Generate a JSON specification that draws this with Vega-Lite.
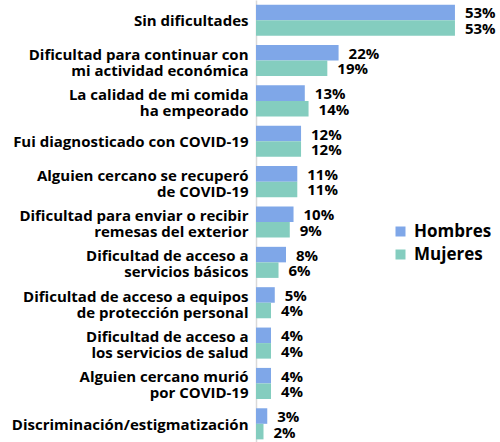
{
  "$schema": "https://vega.github.io/schema/vega-lite/v6.json",
  "autosize": "none",
  "width": 244,
  "height": 444,
  "padding": {"left": 256, "top": 0, "right": 0, "bottom": 0},
  "background": "white",
  "config": {"view": {"stroke": null}, "font": "Open Sans"},
  "data": {"values": [
    {"cat": "Sin dificultades", "sexo": "Hombres", "v": 0.53},
    {"cat": "Sin dificultades", "sexo": "Mujeres", "v": 0.53},
    {"cat": "Dificultad para continuar con|mi actividad económica", "sexo": "Hombres", "v": 0.22},
    {"cat": "Dificultad para continuar con|mi actividad económica", "sexo": "Mujeres", "v": 0.19},
    {"cat": "La calidad de mi comida|ha empeorado", "sexo": "Hombres", "v": 0.13},
    {"cat": "La calidad de mi comida|ha empeorado", "sexo": "Mujeres", "v": 0.14},
    {"cat": "Fui diagnosticado con COVID-19", "sexo": "Hombres", "v": 0.12},
    {"cat": "Fui diagnosticado con COVID-19", "sexo": "Mujeres", "v": 0.12},
    {"cat": "Alguien cercano se recuperó|de COVID-19", "sexo": "Hombres", "v": 0.11},
    {"cat": "Alguien cercano se recuperó|de COVID-19", "sexo": "Mujeres", "v": 0.11},
    {"cat": "Dificultad para enviar o recibir|remesas del exterior", "sexo": "Hombres", "v": 0.10},
    {"cat": "Dificultad para enviar o recibir|remesas del exterior", "sexo": "Mujeres", "v": 0.09},
    {"cat": "Dificultad de acceso a|servicios básicos", "sexo": "Hombres", "v": 0.08},
    {"cat": "Dificultad de acceso a|servicios básicos", "sexo": "Mujeres", "v": 0.06},
    {"cat": "Dificultad de acceso a equipos|de protección personal", "sexo": "Hombres", "v": 0.05},
    {"cat": "Dificultad de acceso a equipos|de protección personal", "sexo": "Mujeres", "v": 0.04},
    {"cat": "Dificultad de acceso a|los servicios de salud", "sexo": "Hombres", "v": 0.04},
    {"cat": "Dificultad de acceso a|los servicios de salud", "sexo": "Mujeres", "v": 0.04},
    {"cat": "Alguien cercano murió|por COVID-19", "sexo": "Hombres", "v": 0.04},
    {"cat": "Alguien cercano murió|por COVID-19", "sexo": "Mujeres", "v": 0.04},
    {"cat": "Discriminación/estigmatización", "sexo": "Hombres", "v": 0.03},
    {"cat": "Discriminación/estigmatización", "sexo": "Mujeres", "v": 0.02}
  ]},
  "encoding": {
    "y": {
      "field": "cat", "type": "nominal", "sort": null,
      "scale": {"paddingInner": 0.23, "paddingOuter": 0.115},
      "axis": {
        "title": null, "ticks": false, "domainColor": "#d9d9d9", "domainWidth": 1.5,
        "labelExpr": "split(datum.value, '|')",
        "labelFont": "Open Sans", "labelFontWeight": "bold", "labelFontSize": 15,
        "labelColor": "black", "labelPadding": 8, "labelLineHeight": 16, "labelLimit": 260,
        "labelOffset": {"condition": {"test": "indexof(datum.value, '|') >= 0", "value": -6}, "value": 1}
      }
    },
    "yOffset": {"field": "sexo", "type": "nominal", "sort": ["Hombres", "Mujeres"]},
    "x": {"field": "v", "type": "quantitative", "scale": {"domain": [0, 0.65]}, "axis": null}
  },
  "layer": [
    {
      "mark": {"type": "bar"},
      "encoding": {
        "color": {
          "field": "sexo", "type": "nominal",
          "scale": {"domain": ["Hombres", "Mujeres"], "range": ["#7fa7e8", "#84cdbf"]},
          "legend": {
            "title": null, "orient": "none", "legendX": 136, "legendY": 223,
            "symbolType": "square", "symbolSize": 100, "symbolStrokeWidth": 0,
            "labelFont": "Open Sans", "labelFontWeight": "bold", "labelFontSize": 17,
            "labelColor": "black", "rowPadding": 5, "labelOffset": 5
          }
        }
      }
    },
    {
      "mark": {"type": "text", "align": "left", "dx": 10, "dy": 1, "font": "Open Sans", "fontWeight": "bold", "fontSize": 15, "color": "black"},
      "encoding": {"text": {"field": "v", "type": "quantitative", "format": ".0%"}}
    }
  ]
}
